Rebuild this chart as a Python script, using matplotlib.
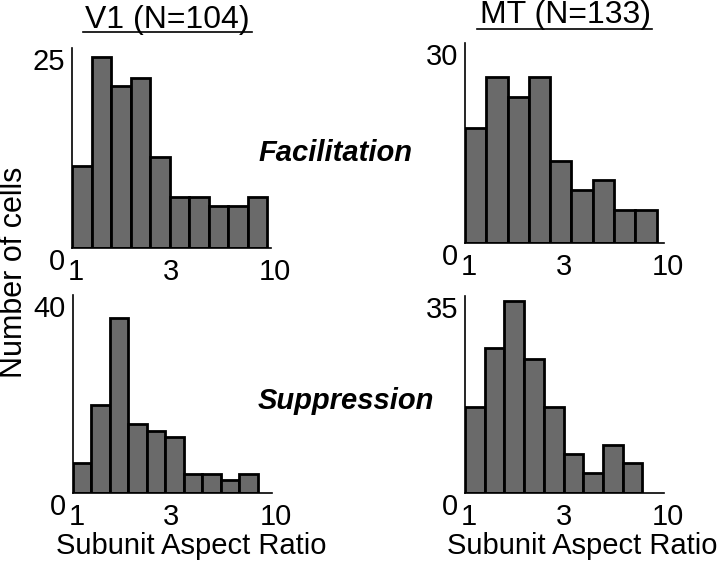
import numpy as np
import matplotlib
matplotlib.use("Agg")
import matplotlib.pyplot as plt
import matplotlib.transforms as mtransforms
from matplotlib.lines import Line2D

plt.rcParams['font.family'] = ['Liberation Sans', 'DejaVu Sans']

# counts per bin (log10 bin widths per panel)
v1_fac = [10.3, 23.9, 20.2, 21.3, 11.4, 6.4, 6.4, 5.2, 5.2, 6.4]
mt_fac = [17.3, 24.9, 21.9, 24.9, 12.3, 7.9, 9.4, 4.9, 4.9]
v1_sup = [6.1, 17.8, 35.3, 13.9, 12.6, 11.4, 3.8, 3.8, 2.6, 3.8]
mt_sup = [15.3, 25.8, 34.2, 23.8, 15.3, 6.9, 3.5, 8.5, 5.3]
bin_w = {'v1_fac': 0.098, 'mt_fac': 0.107, 'v1_sup': 0.093, 'mt_sup': 0.099}
y_max = {'v1_fac': 25, 'mt_fac': 30, 'v1_sup': 40, 'mt_sup': 35}
x_ticks = [1, 3, 10]
x_ticklabels = ['1', '3', '10']

W, H = 720, 564
fig = plt.figure(figsize=(W / 100, H / 100), dpi=100)


def rect(x0, ytop, ybot, decade=199):
    return [x0 / W, 1 - ybot / H, decade / W, (ybot - ytop) / H]


def hist_panel(pos, counts, w, ymax):
    ax = fig.add_axes(pos)
    edges = 10 ** (np.arange(len(counts) + 1) * w)
    ax.bar(edges[:-1], counts, width=np.diff(edges), align='edge',
           color='#6a6a6a', edgecolor='black', linewidth=2)
    ax.set_xscale('log')
    ax.set_xlim(1, 10)
    ax.set_ylim(0, ymax)
    ax.set_xticks(x_ticks)
    ax.set_xticklabels(x_ticklabels)
    ax.xaxis.set_minor_locator(plt.NullLocator())
    ax.set_yticks([0, ymax])
    ax.set_yticklabels(['0', str(ymax)], va='top')
    ax.tick_params(length=0, labelsize=21)
    ax.tick_params(axis='x', pad=7)
    ax.tick_params(axis='y', pad=5)
    # nudge x labels a little to the right, as in the original
    shift = mtransforms.ScaledTranslation(4 / 100, 0, fig.dpi_scale_trans)
    for lab in ax.get_xticklabels():
        lab.set_transform(lab.get_transform() + shift)
    for s in ['top', 'right']:
        ax.spines[s].set_visible(False)
    ax.spines['left'].set_linewidth(1.2)
    ax.spines['bottom'].set_linewidth(1.2)
    ax.patch.set_visible(False)
    return ax


hist_panel(rect(72, 48, 248), v1_fac, bin_w['v1_fac'], y_max['v1_fac'])
hist_panel(rect(465, 43, 243), mt_fac, bin_w['mt_fac'], y_max['mt_fac'])
hist_panel(rect(72.5, 295, 493), v1_sup, bin_w['v1_sup'], y_max['v1_sup'])
hist_panel(rect(465, 296, 493), mt_sup, bin_w['mt_sup'], y_max['mt_sup'])


def ftext(x, y, s, **kw):
    fig.text(x / W, 1 - y / H, s, **kw)


# column titles, underlined
ftext(167, 28, 'V1 (N=104)', ha='center', va='baseline', fontsize=23)
fig.add_artist(Line2D([83 / W, 252 / W], [1 - 32 / H, 1 - 32 / H], color='black', lw=1.2))
ftext(566, 23, 'MT (N=133)', ha='center', va='baseline', fontsize=23)
fig.add_artist(Line2D([477 / W, 652 / W], [1 - 29 / H, 1 - 29 / H], color='black', lw=1.2))

ftext(335, 153, 'Facilitation', ha='center', va='center', fontsize=21,
      fontweight='bold', fontstyle='italic')
ftext(346, 401, 'Suppression', ha='center', va='center', fontsize=21,
      fontweight='bold', fontstyle='italic')

ftext(14, 272, 'Number of cells', ha='center', va='center', rotation=90, fontsize=22)
ftext(191, 546, 'Subunit Aspect Ratio', ha='center', va='center', fontsize=21)
ftext(582, 546, 'Subunit Aspect Ratio', ha='center', va='center', fontsize=21)

plt.savefig('out.png', dpi=100)
plt.close()
